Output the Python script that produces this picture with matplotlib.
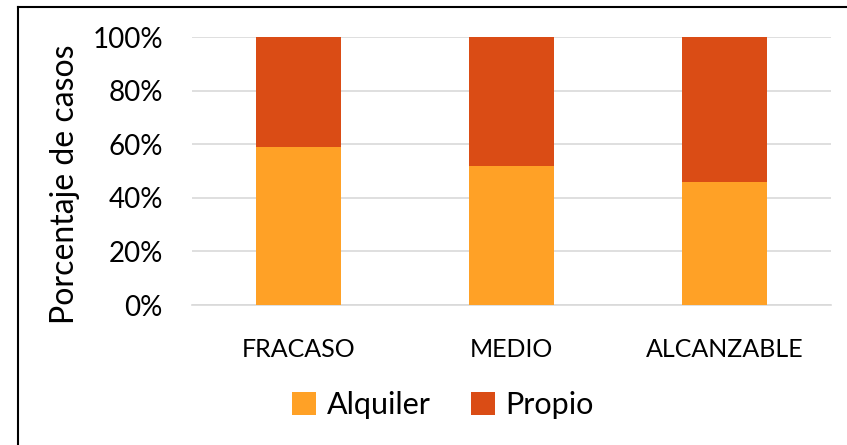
import matplotlib.pyplot as plt
from matplotlib.lines import Line2D
from matplotlib.ticker import PercentFormatter
import numpy as np

categorias = ['FRACASO', 'MEDIO', 'ALCANZABLE']
alquiler = [59, 52, 46]
propio = [41, 48, 54]
series = ['Alquiler', 'Propio']
colores = ['#FFA126', '#DA4C15']

plt.rcParams['font.family'] = ['Lato', 'DejaVu Sans']

fig = plt.figure(figsize=(8.47, 4.45), dpi=100)
ax = fig.add_axes([192 / 847, 1 - 305 / 445, 639 / 847, 268 / 445])

x = np.arange(len(categorias))
ax.bar(x, alquiler, width=0.4, color=colores[0], label=series[0], zorder=3)
ax.bar(x, propio, width=0.4, bottom=alquiler, color=colores[1], label=series[1], zorder=3)

ax.set_xlim(-0.5, len(categorias) - 0.5)
ax.set_ylim(0, 100)
ax.set_yticks(range(0, 101, 20))
ax.yaxis.set_major_formatter(PercentFormatter(decimals=0))
ax.set_xticks(x)
ax.set_xticklabels(categorias, fontsize=18)
ax.tick_params(axis='y', labelsize=20, length=0, pad=21)
ax.tick_params(axis='x', length=0, pad=24)
ax.grid(axis='y', color='#D9D9D9', linewidth=1.2, zorder=0)
for s in ['top', 'right', 'left']:
    ax.spines[s].set_visible(False)
ax.spines['bottom'].set_color('#D9D9D9')
ax.spines['bottom'].set_linewidth(1.2)

ax.set_ylabel('Porcentaje de casos', fontsize=23)
ax.yaxis.set_label_coords((80 - 192) / 639, (305 - 184) / 268)

fig.legend(loc='center', bbox_to_anchor=(443 / 847, 1 - 405 / 445), ncol=2,
           frameon=False, fontsize=22, handlelength=0.8, handleheight=0.8,
           handletextpad=0.35, columnspacing=1.3)

# borde del grafico
fig.add_artist(Line2D([17.5 / 847, 17.5 / 847], [0, 1 - 6.5 / 445], color='black', linewidth=1.5))
fig.add_artist(Line2D([17.5 / 847, 1], [1 - 6.5 / 445, 1 - 6.5 / 445], color='black', linewidth=1.5))

fig.savefig('out.png', dpi=100)
